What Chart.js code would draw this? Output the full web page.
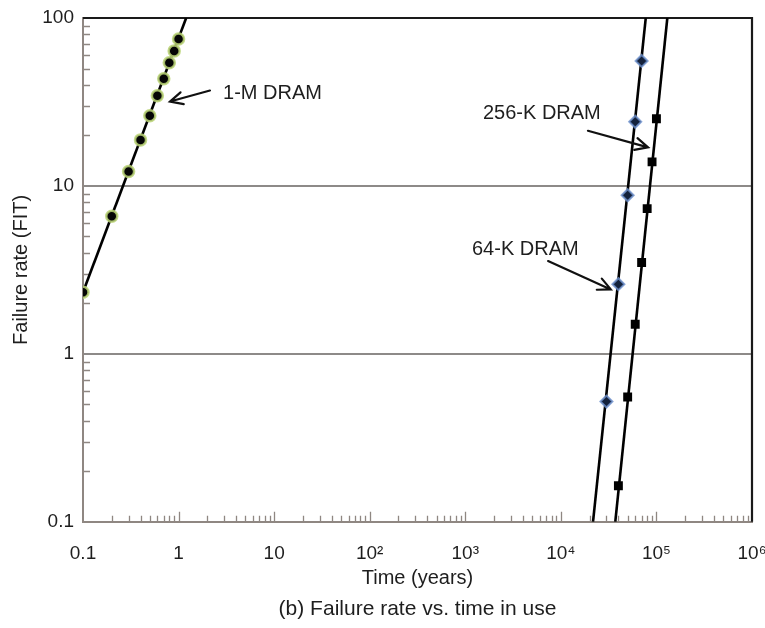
<!DOCTYPE html>
<html>
<head>
<meta charset="utf-8">
<title>Failure rate vs. time in use</title>
<style>
  html, body { margin: 0; padding: 0; background: #fff; }
  #wrap { width: 765px; height: 628px; }
</style>
</head>
<body>
<div id="wrap"><canvas id="chart" width="765" height="628"></canvas></div>
<script src="https://cdn.jsdelivr.net/npm/chart.js@4.4.1/dist/chart.umd.min.js"></script>
<script>
// ----------------------------------------------------
// Data (time in years, failure rate in FIT)
// ----------------------------------------------------
const mDramX = [0.1, 0.2, 0.3, 0.4, 0.5, 0.6, 0.7, 0.8, 0.9, 1.0];
const mDramY = [2.33, 6.6, 12.2, 18.8, 26.2, 34.4, 43.5, 54.1, 63.7, 75];
const mDramFitX = [0.1, 1.2];
const mDramFitY = [2.33, 100];

const k64X = [30000, 40000, 50000, 60000, 70000];
const k64Y = [0.52, 2.6, 8.8, 24.1, 55.5];
const k64FitX = [21700, 77300];
const k64FitY = [0.1, 100];

const k256X = [40000, 50000, 60000, 70000, 80000, 90000, 100000];
const k256Y = [0.164, 0.553, 1.5, 3.5, 7.33, 13.9, 25.1];
const k256FitX = [37100, 130000];
const k256FitY = [0.1, 100];

const xTicks = [0.1, 1, 10, 100, 1e3, 1e4, 1e5, 1e6];
const xTickLabels = ["0.1", "1", "10", "10²", "10³", "10⁴", "10⁵", "10⁶"];
const yTicks = [0.1, 1, 10, 100];
const yTickLabels = ["0.1", "1", "10", "100"];
const minorSteps = [2, 3, 4, 5, 6, 7, 8, 9];

// labels with arrows, placed in data space
const notes = [
  { text: "1-M DRAM", at: [2.92, 35.4], from: [2.13, 37.0], to: [0.813, 31.8] },
  { text: "256-K DRAM", at: [1531, 26.9], from: [19200, 21.3], to: [81700, 16.96] },
  { text: "64-K DRAM", at: [1175, 4.16], from: [7350, 3.57], to: [33300, 2.42] }
];

const pts = (xs, ys) => xs.map((x, i) => ({ x, y: ys[i] }));

const FONT = "'Liberation Sans', Arial, Helvetica, sans-serif";
Chart.defaults.font.family = FONT;
Chart.defaults.color = "#1e1e1e";

const AXIS_GREY = "#8f8782";

// ----------------------------------------------------
// Minor ticks, frame and arrow labels
// ----------------------------------------------------
const decor = {
  id: "decor",
  beforeDatasetsDraw(chart) {
    const { ctx, chartArea: a, scales: { x, y } } = chart;
    ctx.save();
    ctx.strokeStyle = AXIS_GREY;
    ctx.lineWidth = 1.3;
    ctx.beginPath();
    xTicks.slice(0, -1).forEach((d, i) => {
      minorSteps.forEach(m => {
        const px = Math.round(x.getPixelForValue(m * d)) + 0.5;
        ctx.moveTo(px, a.bottom);
        ctx.lineTo(px, a.bottom - 6);
      });
      if (i > 0) {
        const px = Math.round(x.getPixelForValue(d)) + 0.5;
        ctx.moveTo(px, a.bottom);
        ctx.lineTo(px, a.bottom - 10);
      }
    });
    yTicks.slice(0, -1).forEach(d => {
      minorSteps.forEach(m => {
        const py = Math.round(y.getPixelForValue(m * d)) + 0.5;
        ctx.moveTo(a.left, py);
        ctx.lineTo(a.left + 7, py);
      });
    });
    ctx.stroke();

    // black top and right edges
    ctx.strokeStyle = "#1a1a1a";
    ctx.lineWidth = 2.2;
    ctx.beginPath();
    ctx.moveTo(a.left, a.top);
    ctx.lineTo(a.right, a.top);
    ctx.lineTo(a.right, a.bottom);
    ctx.stroke();
    ctx.restore();
  },
  afterDatasetsDraw(chart) {
    const { ctx, scales: { x, y } } = chart;
    ctx.save();
    notes.forEach(n => {
      const x1 = x.getPixelForValue(n.from[0]), y1 = y.getPixelForValue(n.from[1]);
      const x2 = x.getPixelForValue(n.to[0]), y2 = y.getPixelForValue(n.to[1]);
      const ang = Math.atan2(y2 - y1, x2 - x1);
      ctx.strokeStyle = "#111";
      ctx.lineWidth = 2.2;
      ctx.lineCap = "round";
      ctx.beginPath();
      ctx.moveTo(x1, y1);
      ctx.lineTo(x2, y2);
      ctx.moveTo(x2 - 14 * Math.cos(ang - 0.45), y2 - 14 * Math.sin(ang - 0.45));
      ctx.lineTo(x2, y2);
      ctx.lineTo(x2 - 14 * Math.cos(ang + 0.45), y2 - 14 * Math.sin(ang + 0.45));
      ctx.stroke();

      ctx.fillStyle = "#1e1e1e";
      ctx.font = "20px " + FONT;
      ctx.textAlign = "left";
      ctx.textBaseline = "middle";
      ctx.fillText(n.text, x.getPixelForValue(n.at[0]), y.getPixelForValue(n.at[1]));
    });
    ctx.restore();
  }
};

// ----------------------------------------------------
// Chart
// ----------------------------------------------------
const fitLine = (data) => ({
  data,
  showLine: true,
  borderColor: "#000",
  borderWidth: 2.6,
  pointRadius: 0,
  fill: false,
  order: 1
});

new Chart(document.getElementById("chart").getContext("2d"), {
  type: "scatter",
  data: {
    datasets: [
      {
        label: "1-M DRAM",
        data: pts(mDramX, mDramY),
        pointStyle: "circle",
        pointRadius: 5.5,
        borderWidth: 2.5,
        backgroundColor: "#050505",
        borderColor: "rgba(186, 212, 118, 0.85)",
        order: 0
      },
      {
        label: "64-K DRAM",
        data: pts(k64X, k64Y),
        pointStyle: "rectRot",
        pointRadius: 6,
        borderWidth: 2,
        backgroundColor: "#14223c",
        borderColor: "rgba(110, 145, 205, 0.8)",
        order: 0
      },
      {
        label: "256-K DRAM",
        data: pts(k256X, k256Y),
        pointStyle: "rect",
        pointRadius: 6.3,
        borderWidth: 0,
        backgroundColor: "#000",
        order: 0
      },
      fitLine(pts(mDramFitX, mDramFitY)),
      fitLine(pts(k64FitX, k64FitY)),
      fitLine(pts(k256FitX, k256FitY))
    ]
  },
  options: {
    responsive: false,
    animation: false,
    layout: { padding: { top: 18, right: 13, left: 0, bottom: 0 } },
    scales: {
      x: {
        type: "logarithmic",
        min: 0.1,
        max: 1e6,
        afterBuildTicks: s => { s.ticks = xTicks.map(v => ({ value: v })); },
        afterFit: s => { s.height = 75; s.paddingLeft = 0; s.paddingRight = 0; },
        grid: { display: false },
        border: { display: true, color: AXIS_GREY, width: 2 },
        ticks: {
          padding: 13,
          autoSkip: false,
          maxRotation: 0,
          font: { size: 19 },
          color: "#1e1e1e",
          callback: (v, i) => xTickLabels[i]
        },
        title: {
          display: true,
          text: "Time (years)",
          font: { size: 20 },
          color: "#1e1e1e",
          padding: { top: 0, bottom: 6 }
        }
      },
      y: {
        type: "logarithmic",
        min: 0.1,
        max: 100,
        afterBuildTicks: s => { s.ticks = yTicks.map(v => ({ value: v })); },
        afterFit: s => { s.width = 83; s.paddingTop = 0; s.paddingBottom = 0; },
        grid: {
          drawTicks: false,
          lineWidth: 2,
          color: c => (c.tick && (c.tick.value === 1 || c.tick.value === 10)) ? "#8d8a88" : "rgba(0,0,0,0)"
        },
        border: { display: true, color: AXIS_GREY, width: 2 },
        ticks: {
          padding: 9,
          autoSkip: false,
          font: { size: 19 },
          color: "#1e1e1e",
          callback: (v, i) => yTickLabels[i]
        },
        title: {
          display: true,
          text: "Failure rate (FIT)",
          font: { size: 20 },
          color: "#1e1e1e",
          padding: { top: 9, bottom: 0 }
        }
      }
    },
    plugins: {
      legend: { display: false },
      tooltip: { enabled: false },
      title: {
        display: true,
        position: "bottom",
        fullSize: false,
        text: "(b) Failure rate vs. time in use",
        font: { size: 21, weight: "normal" },
        color: "#1e1e1e",
        padding: { top: 0, bottom: 6 }
      }
    }
  },
  plugins: [decor]
});
</script>
</body>
</html>
